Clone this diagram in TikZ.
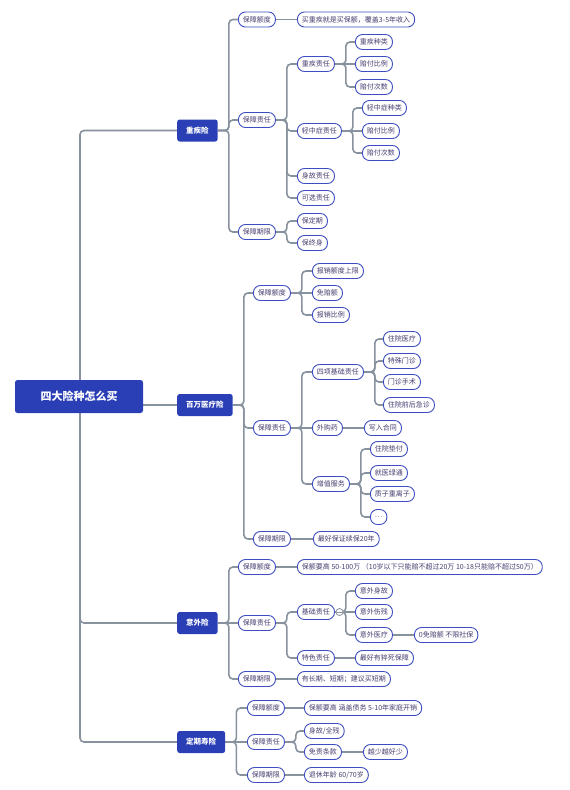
\documentclass[tikz,border=0pt]{standalone}
\usepackage{fontspec}
\setmainfont{Noto Sans CJK SC}
\usepackage{tikz}
\usetikzlibrary{positioning,backgrounds}
\definecolor{mapblue}{RGB}{42,63,182}
\definecolor{edgeblue}{RGB}{62,78,192}
\definecolor{leaftext}{RGB}{72,62,112}
\definecolor{linkgray}{RGB}{136,145,158}
\tikzstyle{root}=[rectangle, rounded corners=2.5pt, fill=mapblue, text=white,
  font=\fontsize{11}{13}\selectfont\bfseries, minimum width=128pt, minimum height=33pt, inner sep=0pt]
\tikzstyle{topic}=[rectangle, rounded corners=2.5pt, fill=mapblue, text=white,
  font=\fontsize{7.5}{9}\selectfont\bfseries, inner xsep=9pt, inner ysep=0pt, minimum height=22pt, anchor=west]
\tikzstyle{leaf}=[rectangle, rounded corners=7pt, draw=edgeblue, line width=0.9pt, fill=white, text=leaftext,
  font=\fontsize{7}{8}\selectfont, inner xsep=4.5pt, inner ysep=0pt, minimum height=15pt, anchor=west]
\tikzstyle{link}=[draw=linkgray, line width=1.6pt, rounded corners=4pt]
\tikzstyle{elbow}=[link, to path={-- ++(11pt,0) |- (\tikztotarget)}]

\begin{document}
\begin{tikzpicture}[x=1pt,y=-1pt]
\useasboundingbox (0,0) rectangle (570,790);
\node (root) [root] at (79,396.5) {四大险种怎么买};
\coordinate (hub) at (80,405);

\node (zj) [topic] at (177,130.5) {重疾险};
\node (bw) [topic] at (177,405) {百万医疗险};
\node (yw) [topic] at (177,623) {意外险};
\node (dq) [topic] at (177,742) {定期寿险};

\node (zjE) [leaf] at (238,19.5) {保障额度};
\node (zjEa) [leaf] at (297,19.5) {买重疾就是买保额，覆盖3-5年收入};
\node (zjR) [leaf] at (238,120) {保障责任};
\node (zjR1) [leaf] at (297,64) {重疾责任};
\node (zjR1a) [leaf] at (355,42) {重疾种类};
\node (zjR1b) [leaf] at (355,64) {赔付比例};
\node (zjR1c) [leaf] at (355,87) {赔付次数};
\node (zjR2) [leaf] at (297,131) {轻中症责任};
\node (zjR2a) [leaf] at (362,108) {轻中症种类};
\node (zjR2b) [leaf] at (362,131) {赔付比例};
\node (zjR2c) [leaf] at (362,153) {赔付次数};
\node (zjR3) [leaf] at (297,176) {身故责任};
\node (zjR4) [leaf] at (297,198) {可选责任};
\node (zjT) [leaf] at (238,232) {保障期限};
\node (zjTa) [leaf] at (297,221) {保定期};
\node (zjTb) [leaf] at (297,243) {保终身};

\node (bwE) [leaf] at (253,293) {保障额度};
\node (bwEa) [leaf] at (312,271) {报销额度上限};
\node (bwEb) [leaf] at (312,293) {免赔额};
\node (bwEc) [leaf] at (312,315) {报销比例};
\node (bwR) [leaf] at (253,428) {保障责任};
\node (bwR1) [leaf] at (312,372) {四项基础责任};
\node (bwR1a) [leaf] at (383,339) {住院医疗};
\node (bwR1b) [leaf] at (383,361) {特殊门诊};
\node (bwR1c) [leaf] at (383,382) {门诊手术};
\node (bwR1d) [leaf] at (383,405) {住院前后急诊};
\node (bwR2) [leaf] at (312,428) {外购药};
\node (bwR2a) [leaf] at (364,428) {写入合同};
\node (bwR3) [leaf] at (312,484) {增值服务};
\node (bwR3a) [leaf] at (370,449) {住院垫付};
\node (bwR3b) [leaf] at (370,473) {就医绿通};
\node (bwR3c) [leaf] at (370,494) {质子重离子};
\node (bwR3d) [leaf] at (370,517) {…};
\node (bwT) [leaf] at (253,539) {保障期限};
\node (bwTa) [leaf] at (313,539) {最好保证续保20年};

\node (ywE) [leaf] at (238,567) {保障额度};
\node (ywEa) [leaf] at (297,567) {保额要高 50-100万 （10岁以下只能赔不超过20万 10-18只能赔不超过50万）};
\node (ywR) [leaf] at (238,623) {保障责任};
\node (ywR1) [leaf] at (297,612) {基础责任};
\node (ywR1a) [leaf] at (355,591) {意外身故};
\node (ywR1b) [leaf] at (355,612) {意外伤残};
\node (ywR1c) [leaf] at (355,635) {意外医疗};
\node (ywR1d) [leaf] at (414,635) {0免赔额 不限社保};
\node (ywR2) [leaf] at (297,658) {特色责任};
\node (ywR2a) [leaf] at (355,658) {最好有猝死保障};
\node (ywT) [leaf] at (238,679) {保障期限};
\node (ywTa) [leaf] at (297,679) {有长期、短期；建议买短期};

\node (dqE) [leaf] at (247,708) {保障额度};
\node (dqEa) [leaf] at (304,708) {保额要高 涵盖债务 5-10年家庭开销};
\node (dqR) [leaf] at (247,742) {保障责任};
\node (dqR1) [leaf] at (304,731) {身故/全残};
\node (dqR2) [leaf] at (304,752) {免责条款};
\node (dqR2a) [leaf] at (363,752) {越少越好少};
\node (dqT) [leaf] at (247,775) {保障期限};
\node (dqTa) [leaf] at (304,775) {退休年龄 60/70岁};

\node (fold) [circle, draw=linkgray, line width=0.8pt, fill=white, minimum size=7pt, inner sep=0pt] at (339.5,612) {};
\draw[linkgray, line width=0.8pt] ([xshift=1.6pt]fold.west) -- ([xshift=-1.6pt]fold.east);

\begin{scope}[on background layer]
\draw[link] (hub) |- (zj.west);
\draw[link] (hub) -- (bw.west);
\draw[link] (hub) |- (yw.west);
\draw[link] (hub) |- (dq.west);

\draw[elbow] (zj.east) to (zjE.west);
\draw[elbow] (zj.east) to (zjR.west);
\draw[elbow] (zj.east) to (zjT.west);
\draw[link] (zjE.east) -- (zjEa.west);
\draw[elbow] (zjR.east) to (zjR1.west);
\draw[elbow] (zjR.east) to (zjR2.west);
\draw[elbow] (zjR.east) to (zjR3.west);
\draw[elbow] (zjR.east) to (zjR4.west);
\draw[elbow] (zjR1.east) to (zjR1a.west);
\draw[link] (zjR1.east) -- (zjR1b.west);
\draw[elbow] (zjR1.east) to (zjR1c.west);
\draw[elbow] (zjR2.east) to (zjR2a.west);
\draw[link] (zjR2.east) -- (zjR2b.west);
\draw[elbow] (zjR2.east) to (zjR2c.west);
\draw[elbow] (zjT.east) to (zjTa.west);
\draw[elbow] (zjT.east) to (zjTb.west);

\draw[elbow] (bw.east) to (bwE.west);
\draw[elbow] (bw.east) to (bwR.west);
\draw[elbow] (bw.east) to (bwT.west);
\draw[elbow] (bwE.east) to (bwEa.west);
\draw[link] (bwE.east) -- (bwEb.west);
\draw[elbow] (bwE.east) to (bwEc.west);
\draw[elbow] (bwR.east) to (bwR1.west);
\draw[link] (bwR.east) -- (bwR2.west);
\draw[elbow] (bwR.east) to (bwR3.west);
\draw[elbow] (bwR1.east) to (bwR1a.west);
\draw[elbow] (bwR1.east) to (bwR1b.west);
\draw[elbow] (bwR1.east) to (bwR1c.west);
\draw[elbow] (bwR1.east) to (bwR1d.west);
\draw[link] (bwR2.east) -- (bwR2a.west);
\draw[elbow] (bwR3.east) to (bwR3a.west);
\draw[elbow] (bwR3.east) to (bwR3b.west);
\draw[elbow] (bwR3.east) to (bwR3c.west);
\draw[elbow] (bwR3.east) to (bwR3d.west);
\draw[link] (bwT.east) -- (bwTa.west);

\draw[elbow] (yw.east) to (ywE.west);
\draw[link] (yw.east) -- (ywR.west);
\draw[elbow] (yw.east) to (ywT.west);
\draw[link] (ywE.east) -- (ywEa.west);
\draw[elbow] (ywR.east) to (ywR1.west);
\draw[elbow] (ywR.east) to (ywR2.west);
\draw[elbow] (ywR1.east) to (ywR1a.west);
\draw[link] (ywR1.east) -- (ywR1b.west);
\draw[elbow] (ywR1.east) to (ywR1c.west);
\draw[link] (ywR1c.east) -- (ywR1d.west);
\draw[link] (ywR2.east) -- (ywR2a.west);
\draw[link] (ywT.east) -- (ywTa.west);

\draw[elbow] (dq.east) to (dqE.west);
\draw[link] (dq.east) -- (dqR.west);
\draw[elbow] (dq.east) to (dqT.west);
\draw[link] (dqE.east) -- (dqEa.west);
\draw[elbow] (dqR.east) to (dqR1.west);
\draw[elbow] (dqR.east) to (dqR2.west);
\draw[link] (dqR2.east) -- (dqR2a.west);
\draw[link] (dqT.east) -- (dqTa.west);
\end{scope}
\end{tikzpicture}
\end{document}
